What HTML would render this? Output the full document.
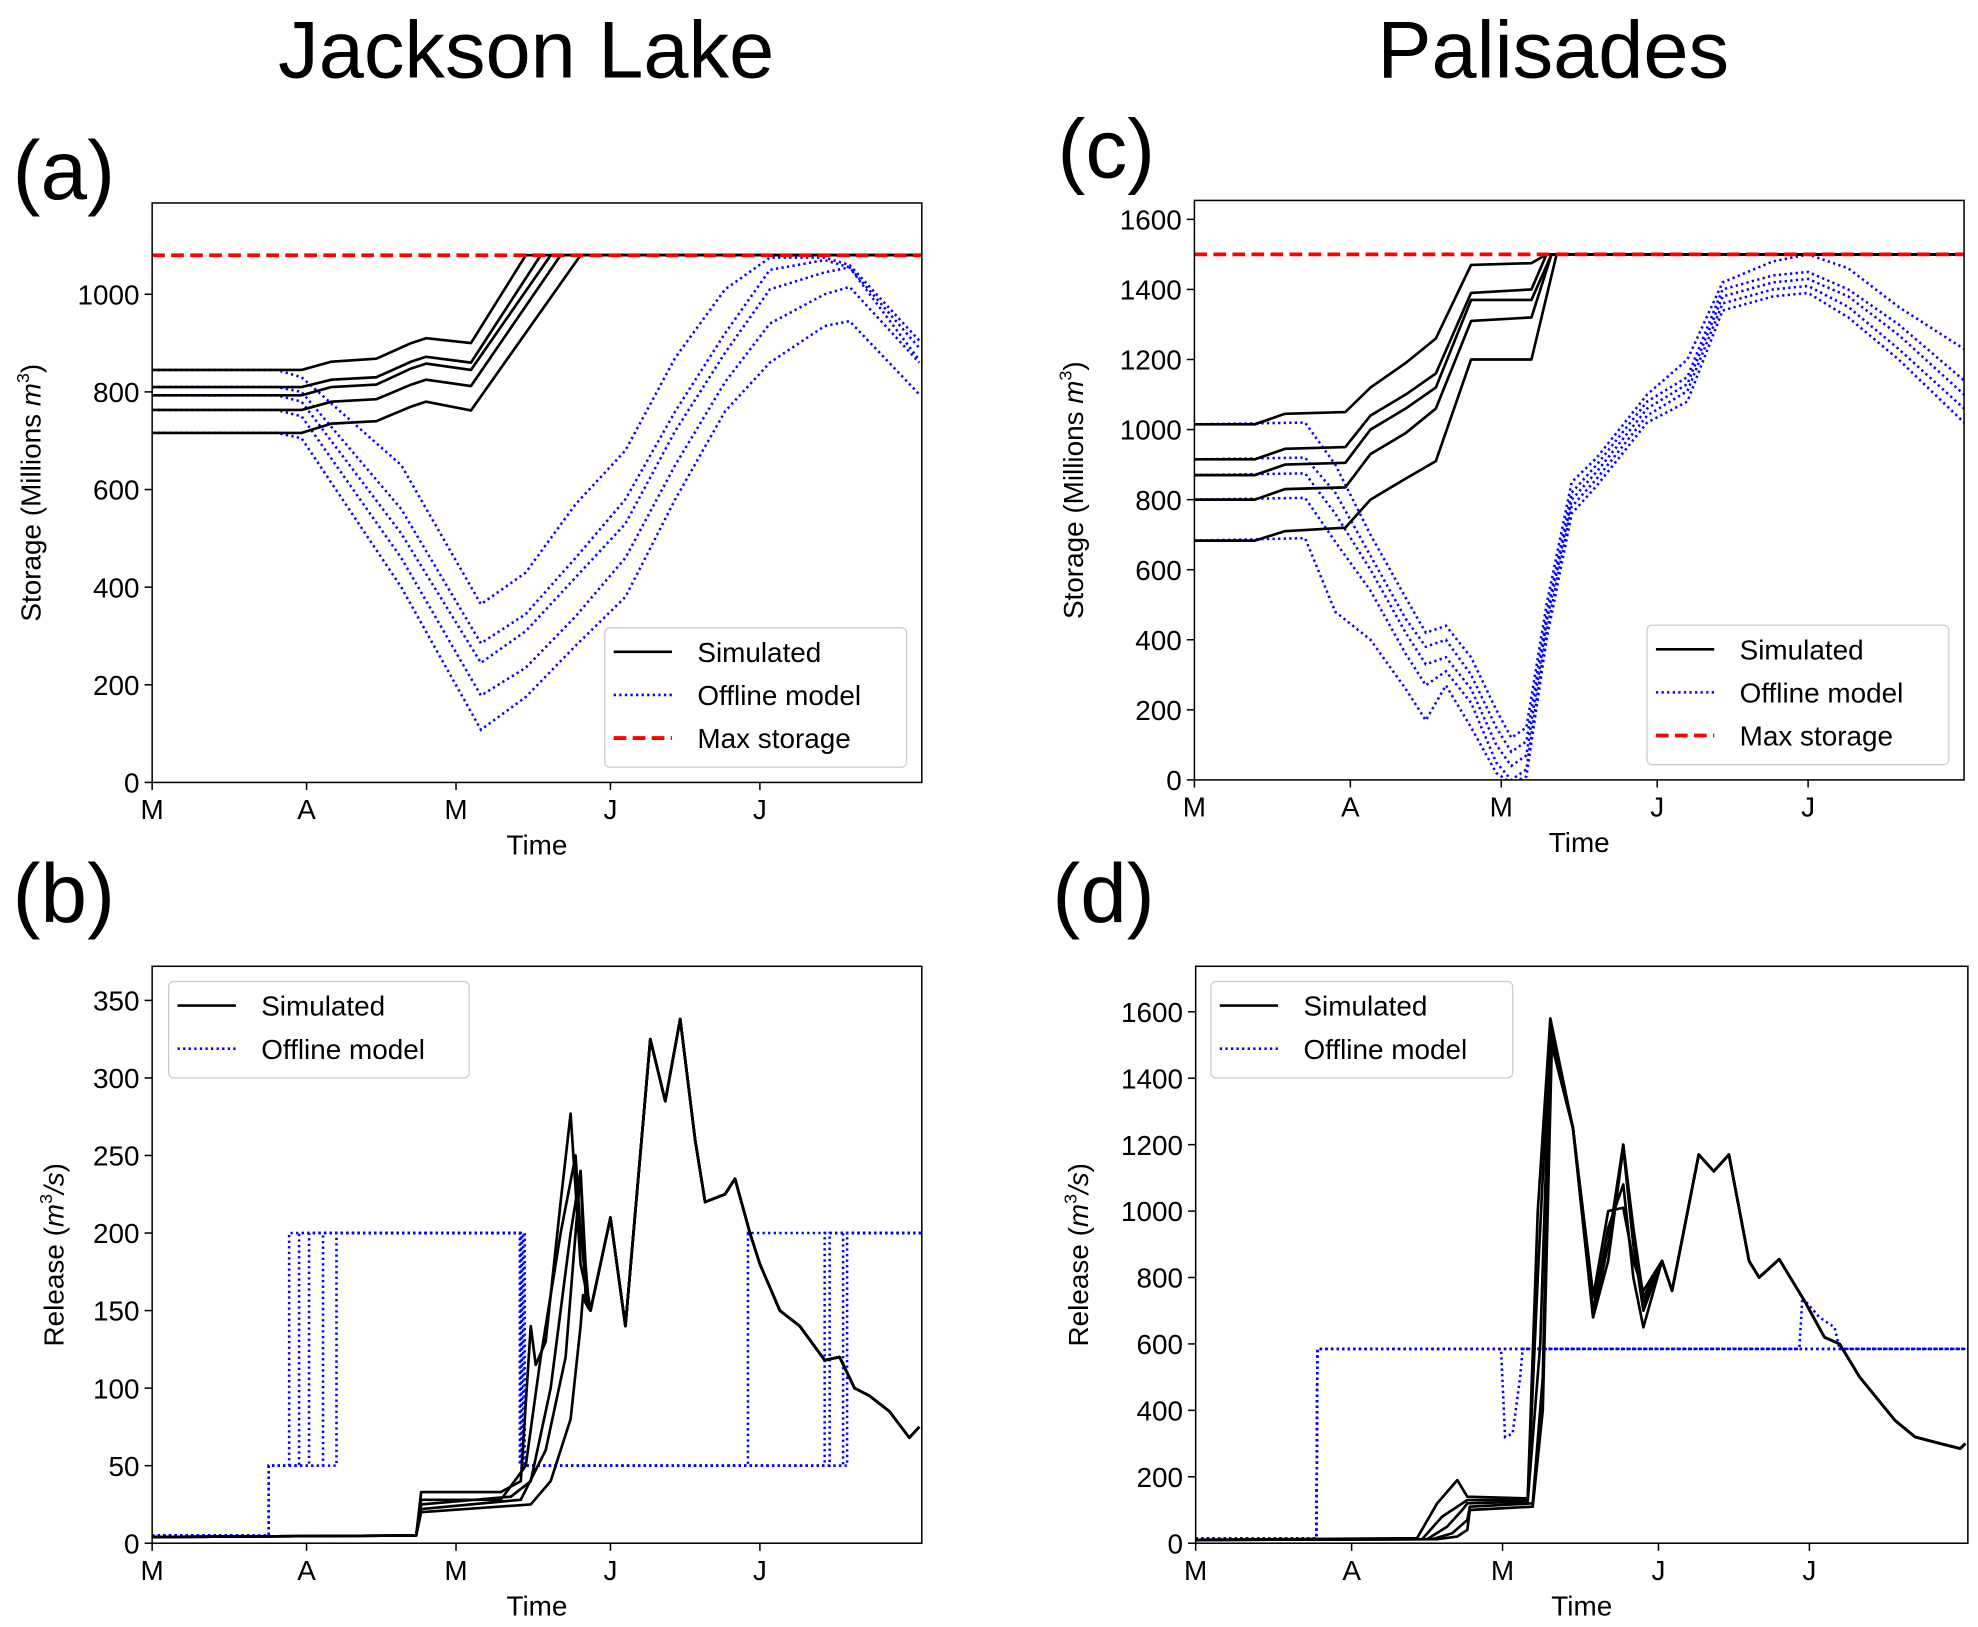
<!DOCTYPE html>
<html><head><meta charset="utf-8"><style>
html,body{margin:0;padding:0;background:#fff}
svg{display:block}
text{font-family:"Liberation Sans",sans-serif;fill:#000}
</style></head><body>
<svg id="fig" width="1978" height="1627" viewBox="0 0 1560 1283">
<text x="415" y="61" font-size="64" text-anchor="middle">Jackson Lake</text>
<text x="1225" y="61" font-size="64" text-anchor="middle">Palisades</text>
<text x="10" y="157" font-size="66">(a)</text>
<text x="10" y="727" font-size="66">(b)</text>
<text x="834" y="140" font-size="66">(c)</text>
<text x="830" y="727" font-size="66">(d)</text>
</svg>
<script>
// ---- Data ----
const monthTicks = ["M","A","M","J","J"];
const monthTickDays = [0,31,61,92,122];
// (a) Jackson storage
const aSimDays = [0,30,36,45,52,55,64];
const aSimVals = [[845,845,862,868,900,910,900],[810,810,825,830,862,872,860],[793,793,810,815,848,858,845],[763,763,780,785,815,825,812],[716,716,735,740,770,780,762]];
const aSimFill = [75,78,80,82,86];
const aOffDays = [0,25,30,50,66,75,85,95,105,115,124,135,140,154];
const aOffVals = [[845,845,830,650,365,430,570,680,870,1010,1075,1075,1060,905],[810,810,800,560,285,345,460,580,760,920,1050,1070,1055,890],[793,793,780,510,245,310,420,530,720,880,1010,1045,1055,865],[763,763,750,460,178,235,340,460,650,820,940,1000,1015,860],[716,716,705,400,108,175,280,380,580,760,860,935,945,795]];
const aMax = 1080;
// (c) Palisades storage
const cSimDays = [0,12,18,30,35,42,48,55,67];
const cSimVals = [[1015,1015,1045,1050,1120,1190,1260,1470,1475],[915,915,945,950,1040,1100,1160,1390,1400],[870,870,900,905,1000,1060,1120,1370,1370],[800,800,830,835,930,990,1060,1310,1320],[683,683,710,720,800,860,910,1200,1200]];
const cSimFill = [70,70,71,71,72];
const cOffDays = [0,22,28,35,42,46,50,55,60,63,66,70,75,80,90,98,105,115,122,130,140,153];
const cOffVals = [[1015,1020,900,700,520,420,440,350,200,120,150,500,850,920,1100,1200,1420,1480,1500,1460,1350,1230],[915,920,820,640,460,380,400,300,150,80,110,470,820,900,1080,1150,1400,1440,1450,1400,1300,1140],[870,875,760,600,420,330,350,260,100,40,70,450,800,880,1060,1130,1380,1420,1430,1380,1270,1100],[800,805,680,540,360,270,310,220,50,0,30,420,780,860,1040,1110,1360,1400,1410,1350,1230,1060],[683,690,480,400,260,170,270,150,20,-10,10,400,760,840,1020,1080,1340,1380,1390,1320,1200,1020]];
const cMax = 1500;
// (b) Jackson release
const bSimHeadDays = [[0,53,54,70,74,76,77,79,82,84,86,88],[0,53,54,70,75,78,80,82,85,86,87,88],[0,53,54,72,76,80,82,84,86,87,87.5,88],[0,53,54,74,79,83,84,85,86,87,87.5,88],[0,53,54,76,80,84,85,86,86.5,87,87.5,88]];
const bSimHeadVals = [[4,5,33,33,40,140,115,130,220,277,180,150],[4,5,28,28,50,120,160,200,250,200,170,150],[4,5,25,30,40,100,150,200,240,160,155,150],[4,5,22,28,60,120,160,200,240,180,160,150],[4,5,20,25,40,80,110,140,160,155,152,150]];
const bTailDays = [92,95,100,103,106,109,111,115,117,120,122,126,130,135,138,141,144,148,152,154];
const bTailVals = [210,140,325,285,338,260,220,225,235,200,180,150,140,118,120,100,95,85,68,75];
const bOffUp1 = [23.4,23.4,23.4,23.4,23.4];
const bOffUp2 = [27.5,29.5,31.5,34.3,37];
const bOffDown = [73.8,74,74.2,74.5,74.8];
const bOffUp3 = [119.6,135,136,138.7,139.5];
const bOffLevels = [5,50,200];
// (d) Palisades release
const dSimHeadDays = [[0,44,48,52,54,66,68,70.5],[0,45,49,53,54,66,68,70.5],[0,46,50,53,54,66,68.5,70.5],[0,47,51,54,54.5,67,69,70.5],[0,48,52,54,54.5,67,69,70.8]];
const dSimHeadVals = [[10,15,120,190,140,135,1000,1580],[10,12,80,120,130,130,800,1560],[10,12,50,100,120,125,600,1540],[10,12,30,70,110,120,500,1520],[10,12,20,40,100,110,400,1500]];
const dMidDays = [75,79,82,85,87,89];
const dMidVals = [[1250,750,900,1200,900,700],[1250,680,900,1200,950,740],[1250,700,950,1080,800,650],[1250,740,1000,1010,850,760],[1250,680,850,1190,900,720]];
const dTailDays = [92.7,94.7,100,103,106,110,112,116,121,125,128,132,139,143,148,152,153];
const dTailVals = [850,760,1170,1120,1170,850,800,855,730,620,600,500,370,320,300,285,300];
const dOffDays = [0,24,24.2,60.7,61.5,63,64.5,65,120,120.6,124,127,128,153];
const dOffVals = [[15,15,585,585,585,585,585,585,585,585,585,585,585,585],[15,15,585,585,320,330,500,585,585,740,680,650,585,585],[15,15,585,585,585,585,585,585,585,585,585,585,585,585],[15,15,585,585,585,585,585,585,585,585,585,585,585,585],[15,15,585,585,585,585,585,585,585,585,585,585,585,585]];

const NS="http://www.w3.org/2000/svg";
const svg=document.getElementById('fig');
function mk(tag,attrs,parent){const e=document.createElementNS(NS,tag);for(const k in attrs)e.setAttribute(k,attrs[k]);(parent||svg).appendChild(e);return e;}

function makePanel(p){
  const sx=d=>p.x0+(d-p.xmin)/(p.xmax-p.xmin)*(p.x1-p.x0);
  const sy=v=>p.y1-(v-p.ymin)/(p.ymax-p.ymin)*(p.y1-p.y0);
  const g=mk('g',{});
  
  
  const cid='clip-'+p.name;
  const cp=mk('clipPath',{id:cid},g);mk('rect',{x:p.x0,y:p.y0,width:p.x1-p.x0,height:p.y1-p.y0},cp);
  const plot=mk('g',{'clip-path':'url(#'+cid+')'},g);
  
  
  p.yticks.forEach(v=>{
    const y=sy(v);
    mk('line',{x1:p.x0-6,x2:p.x0,y1:y,y2:y,stroke:'#000','stroke-width':1.2},g);
    const t=mk('text',{x:p.x0-10,y:y+8,'font-size':22,'text-anchor':'end'},g);t.textContent=v;
    
    
  });
  monthTickDays.forEach((d,i)=>{
    const x=sx(d);
    mk('line',{x1:x,x2:x,y1:p.y1,y2:p.y1+6,stroke:'#000','stroke-width':1.2},g);
    const t=mk('text',{x:x,y:p.y1+29,'font-size':22,'text-anchor':'middle'},g);t.textContent=monthTicks[i];
    
    
  });
  const xl=mk('text',{x:(p.x0+p.x1)/2,y:p.y1+57,'font-size':22,'text-anchor':'middle'},g);xl.textContent='Time';
  
  
  const yl=mk('text',{transform:`translate(${p.ylx},${(p.y0+p.y1)/2}) rotate(-90)`,'font-size':22,'text-anchor':'middle'},g);
  yl.innerHTML=p.ylabel;
  
  
  return {sx,sy,plot,g};
}
function path(ax,days,vals,style,name){
  let d='';days.forEach((x,i)=>{d+=(i?'L':'M')+ax.sx(x).toFixed(2)+','+ax.sy(vals[i]).toFixed(2);});
  const e=mk('path',Object.assign({d:d,fill:'none'},style),ax.plot);
  
  
  return e;
}
const SOLID={stroke:'#000','stroke-width':2.1,'stroke-linejoin':'round'};
const DOT={stroke:'#0000ff','stroke-width':2,'stroke-dasharray':'1.8,2.6'};
const DASH={stroke:'#ff0000','stroke-width':3,'stroke-dasharray':'10,5'};
function frame(p,ax){const r=mk('rect',{x:p.x0,y:p.y0,width:p.x1-p.x0,height:p.y1-p.y0,fill:'none',stroke:'#000','stroke-width':1.2},ax.g);
  
  }
function legend(x,y,w,entries){
  const h=entries.length*34+8;
  const g=mk('g',{});
  
  
  mk('rect',{x:x,y:y,width:w,height:h,rx:4,fill:'#fff','fill-opacity':0.85,stroke:'#ccc','stroke-width':1},g);
  entries.forEach((e,i)=>{
    const cy=y+19+i*34;
    const it=mk('g',{},g);
    
    
    mk('line',Object.assign({x1:x+7,x2:x+53,y1:cy,y2:cy},e.style),it);
    const t=mk('text',{x:x+73,y:cy+8,'font-size':22},it);t.textContent=e.label;
  });
}
const SLAB='Storage (Millions <tspan font-style="italic">m</tspan><tspan font-size="14" dy="-9">3</tspan><tspan dy="9">)</tspan>';
const RLAB='Release (<tspan font-style="italic">m</tspan><tspan font-size="14" dy="-9">3</tspan><tspan dy="9" font-style="italic">/s</tspan>)';

const pa={name:'panel-a-jackson-storage',x0:120,x1:727,y0:160,y1:617,xmin:0,xmax:154.5,ymin:0,ymax:1187,yticks:[0,200,400,600,800,1000],ylabel:SLAB,ylx:32};
const A=makePanel(pa);
aOffVals.forEach((v,i)=>path(A,aOffDays,v,DOT,'offline-storage-'+(i+1)));
aSimVals.forEach((v,i)=>path(A,aSimDays.concat([aSimFill[i],154.5]),v.concat([aMax,aMax]),SOLID,'simulated-storage-'+(i+1)));
path(A,[0,154.5],[aMax,aMax],DASH,'max-storage-line');
frame(pa,A);
legend(477,495,238,[{label:'Simulated',style:SOLID},{label:'Offline model',style:DOT},{label:'Max storage',style:DASH}]);

const pc={name:'panel-c-palisades-storage',x0:942,x1:1549,y0:158,y1:615,xmin:0,xmax:153,ymin:0,ymax:1654,yticks:[0,200,400,600,800,1000,1200,1400,1600],ylabel:SLAB,ylx:854};
const C=makePanel(pc);
cOffVals.forEach((v,i)=>path(C,cOffDays,v,DOT,'offline-storage-'+(i+1)));
cSimVals.forEach((v,i)=>path(C,cSimDays.concat([cSimFill[i],153]),v.concat([cMax,cMax]),SOLID,'simulated-storage-'+(i+1)));
path(C,[0,153],[cMax,cMax],DASH,'max-storage-line');
frame(pc,C);
legend(1299,493,238,[{label:'Simulated',style:SOLID},{label:'Offline model',style:DOT},{label:'Max storage',style:DASH}]);

const pb={name:'panel-b-jackson-release',x0:120,x1:727,y0:762,y1:1217,xmin:0,xmax:154.5,ymin:0,ymax:372,yticks:[0,50,100,150,200,250,300,350],ylabel:RLAB,ylx:50};
const B=makePanel(pb);
for(let i=0;i<5;i++){
  const L=bOffLevels;
  const days=[0,bOffUp1[i],bOffUp1[i],bOffUp2[i],bOffUp2[i],bOffDown[i],bOffDown[i],bOffUp3[i],bOffUp3[i],154.5];
  const vals=[L[0],L[0],L[1],L[1],L[2],L[2],L[1],L[1],L[2],L[2]];
  path(B,days,vals,DOT,'offline-release-'+(i+1));
}
bSimHeadVals.forEach((v,i)=>path(B,bSimHeadDays[i].concat(bTailDays),v.concat(bTailVals),SOLID,'simulated-release-'+(i+1)));
frame(pb,B);
legend(133,774,237,[{label:'Simulated',style:SOLID},{label:'Offline model',style:DOT}]);

const pd={name:'panel-d-palisades-release',x0:943,x1:1552,y0:762,y1:1217,xmin:0,xmax:153.5,ymin:0,ymax:1737,yticks:[0,200,400,600,800,1000,1200,1400,1600],ylabel:RLAB,ylx:858};
const D=makePanel(pd);
dOffVals.forEach((v,i)=>path(D,dOffDays,v,DOT,'offline-release-'+(i+1)));
dSimHeadVals.forEach((v,i)=>path(D,dSimHeadDays[i].concat(dMidDays,dTailDays),v.concat(dMidVals[i],dTailVals),SOLID,'simulated-release-'+(i+1)));
frame(pd,D);
legend(955,774,238,[{label:'Simulated',style:SOLID},{label:'Offline model',style:DOT}]);
</script>
</body></html>
